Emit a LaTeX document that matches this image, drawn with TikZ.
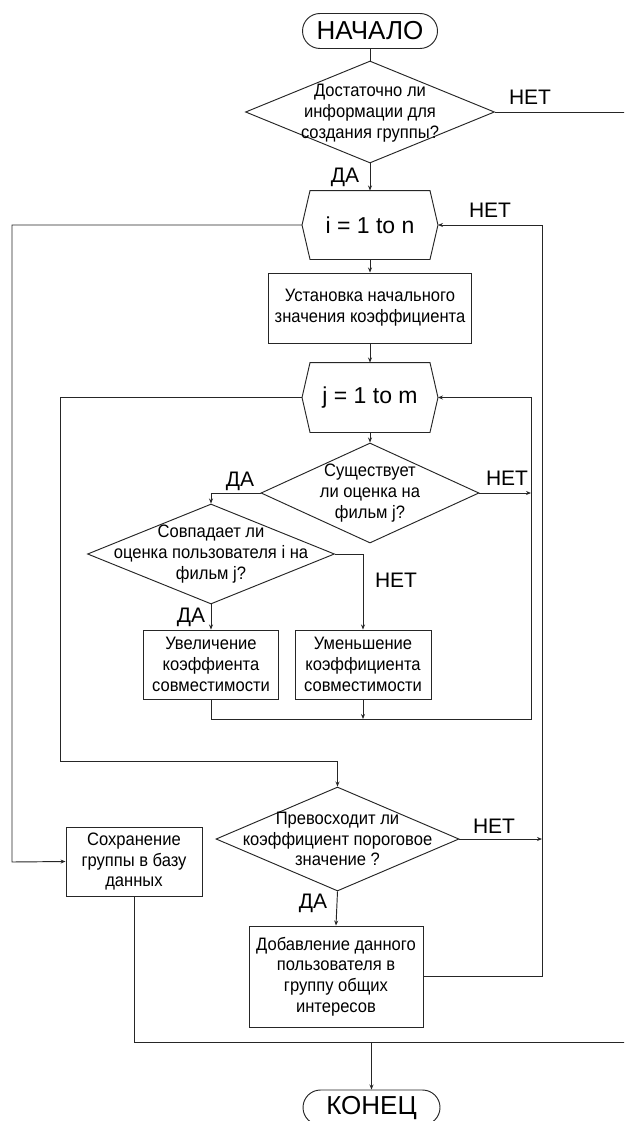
\documentclass[tikz,border=0pt]{standalone}
\usepackage{fontspec}
\setmainfont{Liberation Sans}
\newfontfamily\bodyfont[FakeStretch=0.92]{Liberation Sans}
\usetikzlibrary{arrows.meta,calc,shapes.geometric}
\begin{document}
\begin{tikzpicture}[x=1pt,y=-1pt,
  line width=0.95pt, draw=black!85,
  arr/.style={-{Stealth[length=5pt,width=4pt]}},
  body/.style={font=\bodyfont\fontsize{18}{20.8}\selectfont},
  box/.style={draw, rectangle, inner sep=0pt, align=center, body},
  dia/.style={draw, diamond, inner sep=0pt},
  dtxt/.style={inner sep=0pt, align=center, body},
  hexbox/.style={rectangle, inner sep=0pt, font=\fontsize{23}{26}\selectfont},
  term/.style={draw, rectangle, rounded corners=17.5pt, inner sep=0pt, minimum height=35pt, font=\fontsize{26}{30}\selectfont},
  lbl/.style={inner sep=0pt, font=\fontsize{21}{24}\selectfont}
]
\useasboundingbox (0,0) rectangle (624,1121);
\clip (0,0) rectangle (624,1121);

% nodes
\node[term, minimum width=135pt] (start) at (370,31) {НАЧАЛО};
\node[dia, minimum width=249pt, minimum height=102pt] (d1) at (370,112) {};
\node[dtxt] (d1t) at (370,113) {Достаточно ли\\информации для\\создания группы?};

\node[hexbox, minimum width=135pt, minimum height=68pt] (hexI) at (370,225) {i = 1 to n};
\draw ($(hexI.north west)+(8,0)$) -- (hexI.west) -- ($(hexI.south west)+(8,0)$) -- ($(hexI.south east)+(-8,0)$) -- (hexI.east) -- ($(hexI.north east)+(-8,0)$) -- cycle;

\node[box, minimum width=203pt, minimum height=70pt] (b1) at (370,308) {Установка начального\\значения коэффициента};

\node[hexbox, minimum width=135pt, minimum height=69pt] (hexJ) at (370,397.5) {j = 1 to m};
\draw ($(hexJ.north west)+(8,0)$) -- (hexJ.west) -- ($(hexJ.south west)+(8,0)$) -- ($(hexJ.south east)+(-8,0)$) -- (hexJ.east) -- ($(hexJ.north east)+(-8,0)$) -- cycle;

\node[dia, minimum width=218pt, minimum height=100pt] (d2) at (370,493) {};
\node[dtxt] (d2t) at (370,493) {Существует\\ли оценка на\\фильм j?};

\node[dia, minimum width=247pt, minimum height=100pt] (d3) at (211,554) {};
\node[dtxt] (d3t) at (211,554) {Совпадает ли\\оценка пользователя i на\\фильм j?};

\node[box, minimum width=135pt, minimum height=69pt] (binc) at (211,664.5) {Увеличение\\коэффиента\\совместимости};
\node[box, minimum width=136pt, minimum height=69pt] (bdec) at (363,664.5) {Уменьшение\\коэффициента\\совместимости};

\node[dia, minimum width=243pt, minimum height=104pt] (d4) at (337.5,839) {};
\node[dtxt] (d4t) at (337.5,839) {Превосходит ли\\коэффициент пороговое\\значение ?};

\node[box, minimum width=136pt, minimum height=69pt] (bsave) at (134,861.5) {Сохранение\\группы в базу\\данных};
\node[box, minimum width=174pt, minimum height=101pt] (badd) at (336,976.5) {Добавление данного\\пользователя в\\группу общих\\интересов};

\node[term, minimum width=137pt] (end) at (371.5,1107.5) {КОНЕЦ};

% labels
\node[lbl] (l1) at (530,97) {НЕТ};
\node[lbl] (l2) at (345,177) {ДА};
\node[lbl] (l3) at (490,210) {НЕТ};
\node[lbl] (l4) at (507,478) {НЕТ};
\node[lbl] (l5) at (240,481) {ДА};
\node[lbl] (l6) at (396,580) {НЕТ};
\node[lbl] (l7) at (191,617) {ДА};
\node[lbl] (l8) at (494,826) {НЕТ};
\node[lbl] (l9) at (313,903) {ДА};

% coordinates
\coordinate (e1) at (640,112);
\coordinate (e2) at (640,1042);
\coordinate (j1) at (371.5,1042);

% connectors
\draw (start.south) -- (d1.north);
\draw (d1.east) -- (e1);
\draw[arr] (d1.south) -- (hexI.north);
\draw[arr] (hexI.west) -- (12,225) -- (12,862) -- (bsave.west);
\draw[arr] (hexI.south) -- (b1.north);
\draw[arr] (b1.south) -- (hexJ.north);
\draw[arr] (hexJ.west) -- (60,397.5) -- (60,761) -- (337.5,761) -- (d4.north);
\draw[arr] (hexJ.south) -- (d2.north);
\draw[arr] (d2.east) -- (531,493);
\draw[arr] (d2.west) -- (211,493) -- (d3.north);
\draw[arr] (d3.east) -- (bdec.north |- d3.east) -- (bdec.north);
\draw[arr] (d3.south) -- (binc.north);
\draw[arr] (binc.south) -- (211,719) -- (531,719) -- (531,397.5) -- (hexJ.east);
\draw[arr] (bdec.south) -- (363,719);
\draw[arr] (d4.east) -- (542,839);
\draw[arr] (d4.south) -- (badd.north);
\draw[arr] (badd.east) -- (542,976.5) -- (542,225) -- (hexI.east);
\draw (bsave.south) -- (134,1042) -- (e2);
\draw[arr] (j1) -- (end.north);
\end{tikzpicture}
\end{document}
